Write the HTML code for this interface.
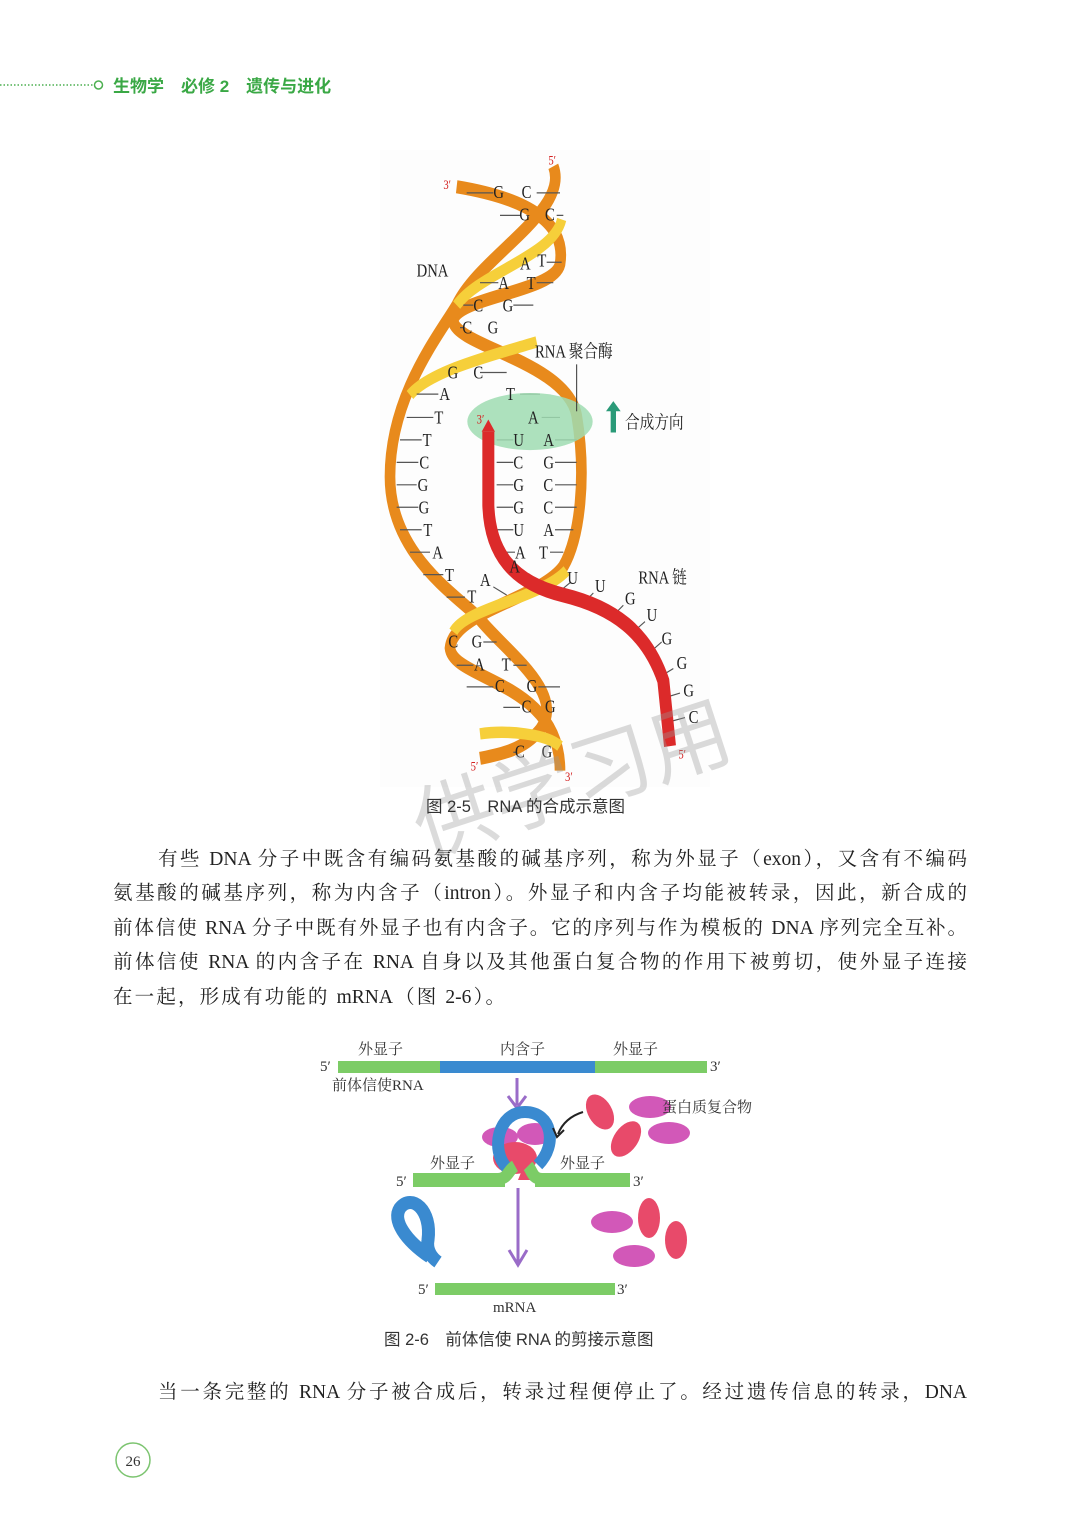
<!DOCTYPE html>
<html><head><meta charset="utf-8">
<style>
body{margin:0;background:#fff;}
.pg{position:relative;width:1080px;height:1526px;overflow:hidden;background:#fff;font-family:"Liberation Serif","Noto Serif CJK SC",serif;color:#222;}
.ln{position:absolute;font-size:19.5px;white-space:nowrap;text-align:justify;text-align-last:justify;line-height:24px;}
.cap{position:absolute;font-size:16.5px;font-family:"Liberation Sans","Noto Sans CJK SC",sans-serif;color:#333;white-space:nowrap;}
</style></head><body><div class="pg">
<svg width="1080" height="1526" style="position:absolute;left:0;top:0">
<line x1="0" y1="85" x2="94" y2="85" stroke="#4caf50" stroke-width="1.5" stroke-dasharray="1.5,2"/>
<circle cx="98.5" cy="85" r="4" fill="none" stroke="#4caf50" stroke-width="1.5"/>
<text x="113" y="92" font-family="Liberation Sans,Noto Sans CJK SC,sans-serif" font-size="17" font-weight="bold" fill="#3aa845">生物学　必修 2　遗传与进化</text>

<g transform="translate(380,150) scale(0.33333,0.4083)" font-family="Liberation Serif,Noto Serif CJK SC,serif">
<rect x="0" y="0" width="990" height="1560" fill="#fdfdfd"/>
<path d="M230,90 C450,120 560,180 540,280 C520,350 220,360 220,420 C230,480 560,520 590,650 C620,800 600,950 550,1020 C480,1100 220,1130 210,1220 C220,1300 540,1300 540,1520" fill="none" stroke="#e88a1c" stroke-width="32"/>
<path d="M520,40 C570,150 300,260 230,380 C180,450 30,600 30,800 C30,1000 250,1100 300,1150 C380,1230 560,1330 480,1420 C430,1470 360,1480 300,1490" fill="none" stroke="#e88a1c" stroke-width="32"/>
<path d="M545,170 C520,260 300,300 230,380" fill="none" stroke="#f6cf3a" stroke-width="28"/>
<path d="M470,470 C350,500 150,540 90,600" fill="none" stroke="#f6cf3a" stroke-width="28"/>
<path d="M560,1030 C480,1100 260,1120 220,1180" fill="none" stroke="#f6cf3a" stroke-width="28"/>
<path d="M300,1430 C380,1420 500,1430 540,1460" fill="none" stroke="#f6cf3a" stroke-width="28"/>
<g stroke="#555" stroke-width="3">
<path d="M260,105 H340 M470,105 H540 M360,160 H420 M530,160 H550 M500,275 H545 M300,325 H355 M470,325 H520 M250,380 H280 M400,380 H460 M240,435 H250 M300,545 H380 M110,598 H175 M420,598 H480 M80,655 H160 M485,655 H540 M60,710 H125 M350,710 H400 M525,710 H590 M50,765 H115 M350,765 H400 M525,765 H590 M50,820 H110 M350,820 H400 M525,820 H590 M50,875 H115 M350,875 H400 M525,875 H590 M60,930 H125 M350,930 H400 M525,930 H580 M90,985 H150 M380,985 H405 M510,985 H550 M130,1040 H190 M200,1095 H255 M310,1205 H350 M230,1262 H280 M400,1262 H440 M260,1315 H340 M475,1315 H540 M370,1365 H420 M400,1475 H410"/>
<path d="M340,1070 L380,1090 M540,1080 L570,1060 M610,1110 L640,1085 M700,1140 L730,1115 M760,1180 L795,1155 M810,1230 L845,1205 M840,1290 L880,1270 M860,1340 L900,1330 M870,1400 L915,1390 M420,1030 L450,1040"/>
</g>
<ellipse cx="450" cy="665" rx="188" ry="70" fill="#9fdcb2" opacity="0.85"/>
<line x1="590" y1="525" x2="590" y2="640" stroke="#333" stroke-width="3"/>
<path d="M325,690 L325,870 C330,990 400,1060 550,1090 C700,1120 800,1180 850,1300 L870,1460" fill="none" stroke="#dc2a2a" stroke-width="36"/>
<path d="M305,690 L325,660 L345,690 Z" fill="#dc2a2a"/>
<path d="M700,615 L722,640 L708,640 L708,692 L692,692 L692,640 L678,640 Z" fill="#2a9a78"/>
<g font-size="44" fill="#222">
<text x="340" y="118">G</text><text x="425" y="118">C</text>
<text x="418" y="173">G</text><text x="495" y="173">C</text>
<text x="420" y="293">A</text><text x="472" y="285">T</text>
<text x="355" y="340">A</text><text x="440" y="340">T</text>
<text x="280" y="395">C</text><text x="368" y="395">G</text>
<text x="247" y="450">C</text><text x="323" y="450">G</text>
<text x="203" y="560">G</text><text x="280" y="560">C</text>
<text x="178" y="612">A</text><text x="378" y="612">T</text>
<text x="163" y="670">T</text><text x="444" y="670">A</text>
<text x="128" y="725">T</text><text x="400" y="725">U</text><text x="490" y="725">A</text>
<text x="118" y="780">C</text><text x="400" y="780">C</text><text x="490" y="780">G</text>
<text x="113" y="835">G</text><text x="400" y="835">G</text><text x="490" y="835">C</text>
<text x="116" y="890">G</text><text x="400" y="890">G</text><text x="490" y="890">C</text>
<text x="130" y="945">T</text><text x="400" y="945">U</text><text x="490" y="945">A</text>
<text x="157" y="1000">A</text><text x="405" y="1000">A</text><text x="477" y="1000">T</text>
<text x="195" y="1055">T</text><text x="388" y="1035">A</text>
<text x="300" y="1068">A</text><text x="262" y="1108">T</text>
<text x="562" y="1063">U</text><text x="645" y="1083">U</text><text x="735" y="1113">G</text>
<text x="800" y="1153">U</text><text x="845" y="1211">G</text><text x="890" y="1271">G</text>
<text x="910" y="1338">G</text><text x="926" y="1403">C</text>
<text x="205" y="1218">C</text><text x="275" y="1218">G</text>
<text x="282" y="1275">A</text><text x="365" y="1275">T</text>
<text x="345" y="1328">C</text><text x="440" y="1328">G</text>
<text x="425" y="1378">C</text><text x="495" y="1378">G</text>
<text x="405" y="1488">C</text><text x="485" y="1488">G</text>
<text x="110" y="310">DNA</text>
<text x="465" y="508">RNA 聚合酶</text>
<text x="735" y="682">合成方向</text>
<text x="775" y="1062">RNA 链</text>
</g>
<g font-size="32" fill="#d42020">
<text x="190" y="95">3′</text><text x="505" y="35">5′</text><text x="290" y="670">3′</text>
<text x="272" y="1520">5′</text><text x="555" y="1545">3′</text><text x="895" y="1490">5′</text>
</g>
</g>
<text x="400" y="820" font-size="82" fill="#999" opacity="0.35" transform="rotate(-18 530 760)" font-family="Noto Sans CJK SC,sans-serif">供学习用</text>

<g font-family="Liberation Serif,Noto Serif CJK SC,serif" font-size="15" fill="#333">
<rect x="338" y="1061" width="102" height="12" fill="#7ccc66"/>
<rect x="440" y="1061" width="155" height="12" fill="#3a8ad0"/>
<rect x="595" y="1061" width="112" height="12" fill="#7ccc66"/>
<text x="358" y="1054">外显子</text><text x="500" y="1054">内含子</text><text x="613" y="1054">外显子</text>
<text x="320" y="1071">5′</text><text x="710" y="1071">3′</text>
<text x="332" y="1090">前体信使RNA</text>
<line x1="517" y1="1078" x2="517" y2="1105" stroke="#9a6cc8" stroke-width="3"/>
<path d="M508,1096 L517,1108 L526,1096" fill="none" stroke="#9a6cc8" stroke-width="3"/>
<ellipse cx="500" cy="1137" rx="18" ry="10" fill="#d258b8"/>
<ellipse cx="535" cy="1134" rx="18" ry="11" fill="#d258b8"/>
<ellipse cx="515" cy="1158" rx="22" ry="16" fill="#e84a6a"/>
<path d="M507,1168 C490,1150 498,1112 525,1112 C552,1112 558,1145 538,1165" fill="none" stroke="#3a8ad0" stroke-width="12"/>
<path d="M518,1180 L526,1160 L532,1180 Z" fill="#e84a6a"/>
<path d="M413,1179 H498 C508,1179 508,1170 515,1166 M528,1166 C532,1170 532,1179 542,1179 H630" fill="none" stroke="#7ccc66" stroke-width="12"/>
<rect x="413" y="1175" width="92" height="12" fill="#7ccc66"/><rect x="535" y="1175" width="95" height="12" fill="#7ccc66"/>
<path d="M583,1112 C570,1116 562,1124 558,1134" fill="none" stroke="#222" stroke-width="2"/>
<path d="M553,1128 L557,1137 L564,1130" fill="none" stroke="#222" stroke-width="2"/>
<ellipse cx="600" cy="1112" rx="12" ry="19" fill="#e84a6a" transform="rotate(-30 600 1112)"/>
<ellipse cx="650" cy="1107" rx="21" ry="11" fill="#d258b8"/>
<ellipse cx="626" cy="1139" rx="12" ry="20" fill="#e84a6a" transform="rotate(35 626 1139)"/>
<ellipse cx="669" cy="1133" rx="21" ry="11" fill="#d258b8"/>
<text x="662" y="1112">蛋白质复合物</text>
<text x="430" y="1168">外显子</text><text x="560" y="1168">外显子</text>
<text x="396" y="1186">5′</text><text x="633" y="1186">3′</text>
<line x1="518" y1="1188" x2="518" y2="1263" stroke="#9a6cc8" stroke-width="3"/>
<path d="M509,1250 L518,1265 L527,1250" fill="none" stroke="#9a6cc8" stroke-width="3"/>
<path d="M430,1257 C405,1240 392,1220 400,1208 C412,1193 432,1210 428,1240 C426,1250 432,1258 438,1262" fill="none" stroke="#3a8ad0" stroke-width="13"/>
<ellipse cx="612" cy="1222" rx="21" ry="11" fill="#d258b8"/>
<ellipse cx="649" cy="1218" rx="11" ry="20" fill="#e84a6a"/>
<ellipse cx="676" cy="1240" rx="11" ry="19" fill="#e84a6a"/>
<ellipse cx="634" cy="1256" rx="21" ry="11" fill="#d258b8"/>
<rect x="435" y="1283" width="180" height="12" fill="#7ccc66"/>
<text x="418" y="1294">5′</text><text x="617" y="1294">3′</text>
<text x="493" y="1312">mRNA</text>
</g>
<circle cx="133" cy="1460" r="17" fill="none" stroke="#7cc470" stroke-width="1.5"/>
<text x="133" y="1466" text-anchor="middle" font-family="Liberation Serif,serif" font-size="15" fill="#333">26</text>
</svg>
<div class="cap" style="left:426px;top:793px;">图 2-5　RNA 的合成示意图</div>
<div class="ln" style="left:158px;top:848px;width:809px;">有些 DNA 分子中既含有编码氨基酸的碱基序列，称为外显子（exon），又含有不编码</div>
<div class="ln" style="left:113px;top:882px;width:854px;">氨基酸的碱基序列，称为内含子（intron）。外显子和内含子均能被转录，因此，新合成的</div>
<div class="ln" style="left:113px;top:917px;width:854px;">前体信使 RNA 分子中既有外显子也有内含子。它的序列与作为模板的 DNA 序列完全互补。</div>
<div class="ln" style="left:113px;top:951px;width:854px;">前体信使 RNA 的内含子在 RNA 自身以及其他蛋白复合物的作用下被剪切，使外显子连接</div>
<div class="ln" style="left:113px;top:986px;width:392px;">在一起，形成有功能的 mRNA（图 2-6）。</div>
<div class="cap" style="left:384px;top:1326px;">图 2-6　前体信使 RNA 的剪接示意图</div>
<div class="ln" style="left:158px;top:1381px;width:809px;">当一条完整的 RNA 分子被合成后，转录过程便停止了。经过遗传信息的转录，DNA</div>
</div></body></html>
